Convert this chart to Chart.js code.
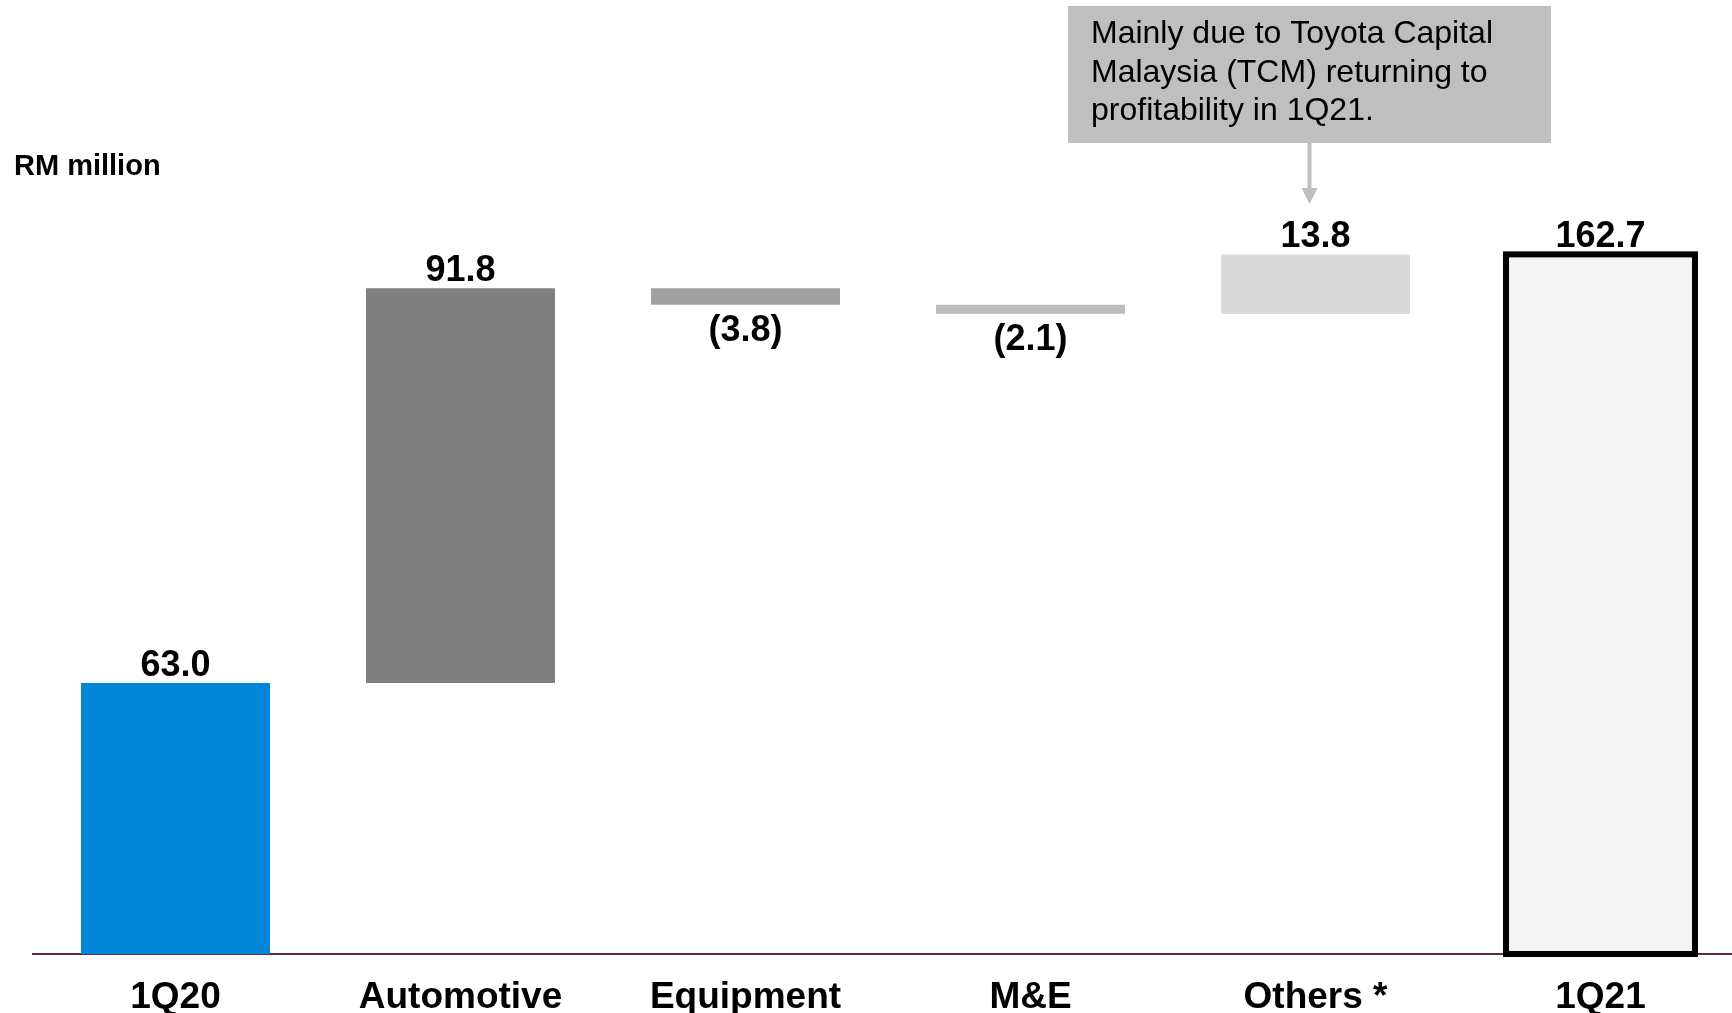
<!DOCTYPE html>
<html>
<head>
<meta charset="utf-8">
<title>Profit bridge 1Q20 to 1Q21</title>
<script src="https://cdn.jsdelivr.net/npm/chart.js@4.4.1/dist/chart.umd.min.js"></script>
<style>
  html, body { margin: 0; padding: 0; background: #ffffff; overflow: hidden; }
  #wrap { position: relative; width: 1732px; height: 1013px; overflow: hidden; }
  canvas { display: block; }
</style>
</head>
<body>
<div id="wrap"><canvas id="bridge" width="1760" height="1043"></canvas></div>
<script>
// Bridge steps (RM million). Totals start from zero; the rest move the running level.
const categories = ['1Q20', 'Automotive', 'Equipment', 'M&E', 'Others *', '1Q21'];
const changes = [63.0, 91.8, -3.8, -2.1, 13.8, 162.7];
const isTotal = [true, false, false, false, false, true];
const barColors = ['#0085D8', '#7F7F7F', '#A0A0A0', '#BDBDBD', '#D9D9D9', '#F4F4F4'];
const unitLabel = 'RM million';
const noteLines = [
  'Mainly due to Toyota Capital',
  'Malaysia (TCM) returning to',
  'profitability in 1Q21.'
];
const noteFor = 'Others *';

const FONT = "'Liberation Sans', Arial, Helvetica, sans-serif";

// Floating [from, to] ranges built from the step values
const ranges = [];
let level = 0;
changes.forEach((v, i) => {
  if (isTotal[i]) {
    ranges.push([0, v]);
    level = v;
  } else {
    ranges.push([level, level + v]);
    level += v;
  }
});

const fmt = v => v < 0 ? '(' + Math.abs(v).toFixed(1) + ')' : v.toFixed(1);

// Value labels: above rising/total bars, below falling bars; outlined closing total
const bridgeDecor = {
  id: 'bridgeDecor',
  afterDatasetsDraw(chart) {
    const ctx = chart.ctx;
    const meta = chart.getDatasetMeta(0);
    ctx.save();

    // closing total bar outline (stroke centred on the bar edge)
    meta.data.forEach((el, i) => {
      if (isTotal[i] && i === changes.length - 1) {
        const top = Math.min(el.y, el.base);
        const bot = Math.max(el.y, el.base);
        ctx.lineWidth = 6;
        ctx.strokeStyle = '#000000';
        ctx.lineJoin = 'miter';
        ctx.strokeRect(el.x - el.width / 2, top, el.width, bot - top);
      }
    });

    ctx.fillStyle = '#000000';
    ctx.font = 'bold 36px ' + FONT;
    ctx.textAlign = 'center';
    ctx.textBaseline = 'alphabetic';
    meta.data.forEach((el, i) => {
      const top = Math.min(el.y, el.base);
      const bot = Math.max(el.y, el.base);
      const v = changes[i];
      if (v < 0) {
        ctx.fillText(fmt(v), el.x, bot + 36);
      } else {
        ctx.fillText(fmt(v), el.x, top - 7);
      }
    });

    // unit caption
    ctx.textAlign = 'left';
    ctx.font = 'bold 29px ' + FONT;
    ctx.fillText(unitLabel, 14, 175);

    // call-out box with arrow pointing at the "Others" step
    const k = categories.indexOf(noteFor);
    const target = meta.data[k];
    const boxL = 1068, boxT = 6, boxW = 483, boxH = 137;
    ctx.fillStyle = '#BFBFBF';
    ctx.fillRect(boxL, boxT, boxW, boxH);
    ctx.fillStyle = '#000000';
    ctx.font = '32px ' + FONT;
    noteLines.forEach((t, j) => ctx.fillText(t, 1091, 43 + j * 38.5));

    const ax = target.x - 6;
    ctx.strokeStyle = '#BFBFBF';
    ctx.lineWidth = 4;
    ctx.beginPath();
    ctx.moveTo(ax, boxT + boxH);
    ctx.lineTo(ax, 190);
    ctx.stroke();
    ctx.fillStyle = '#BFBFBF';
    ctx.beginPath();
    ctx.moveTo(ax - 8, 188);
    ctx.lineTo(ax + 8, 188);
    ctx.lineTo(ax, 204);
    ctx.closePath();
    ctx.fill();

    ctx.restore();
  }
};

new Chart(document.getElementById('bridge'), {
  type: 'bar',
  data: {
    labels: categories,
    datasets: [{
      data: ranges,
      backgroundColor: barColors,
      borderColor: categories.map((c, i) => i === 4 ? '#C2C2C2' : 'rgba(0,0,0,0)'),
      borderWidth: categories.map((c, i) => i === 4 ? { top: 1, bottom: 1, left: 0, right: 0 } : 0),
      borderSkipped: false,
      barPercentage: 0.663,
      categoryPercentage: 1.0
    }]
  },
  options: {
    responsive: false,
    animation: false,
    devicePixelRatio: 1,
    layout: { padding: { left: 33, right: 17, top: 94, bottom: 2 } },
    plugins: {
      legend: { display: false },
      tooltip: { enabled: false },
      title: { display: false }
    },
    scales: {
      x: {
        type: 'category',
        grid: { display: false, drawTicks: false },
        border: { display: true, color: '#5B2C4B', width: 2 },
        ticks: {
          color: '#000000',
          font: { family: FONT, size: 37, weight: 'bold', lineHeight: 1 },
          padding: 25,
          maxRotation: 0,
          autoSkip: false
        }
      },
      y: {
        display: false,
        min: 0,
        max: 200
      }
    }
  },
  plugins: [bridgeDecor]
});
</script>
</body>
</html>
